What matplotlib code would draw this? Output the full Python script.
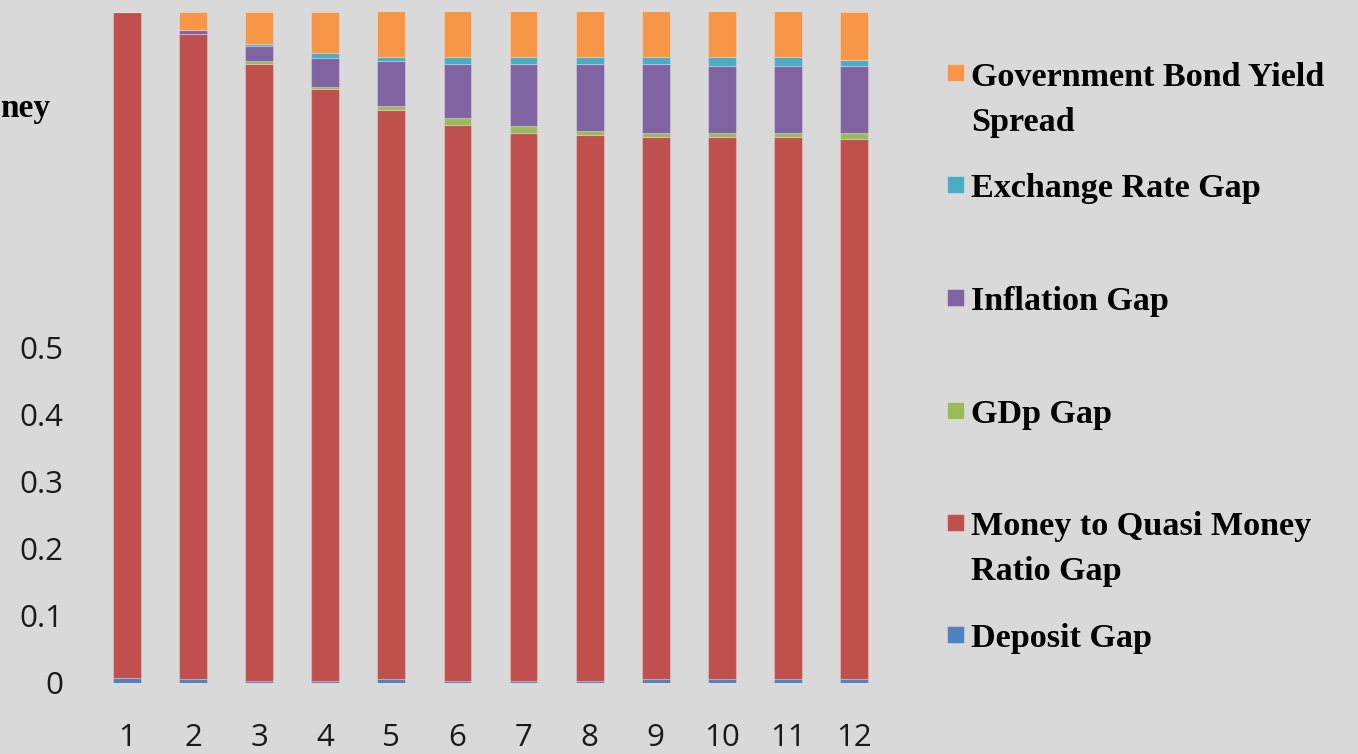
import matplotlib
matplotlib.use("Agg")
from matplotlib import pyplot as plt
from matplotlib.patches import Rectangle
import numpy as np

periods = list(range(1, 13))

# shares of each factor per period (stacked to 1.0)
deposit   = [0.008, 0.0055, 0.0025, 0.0025, 0.0055, 0.0025, 0.0025, 0.0025, 0.0055, 0.0055, 0.0055, 0.0055]
money_qm  = [0.992, 0.9615, 0.920, 0.882, 0.848, 0.8285, 0.8165, 0.8135, 0.808, 0.808, 0.808, 0.8045]
gdp       = [0.0, 0.0, 0.0035, 0.0035, 0.0065, 0.010, 0.010, 0.0065, 0.0055, 0.0055, 0.0055, 0.009]
inflation = [0.0, 0.006, 0.022, 0.043, 0.066, 0.081, 0.093, 0.0995, 0.103, 0.1005, 0.1005, 0.1005]
exchange  = [0.0, 0.0, 0.003, 0.007, 0.006, 0.010, 0.010, 0.010, 0.010, 0.0125, 0.0125, 0.009]
bond      = [0.0, 0.027, 0.049, 0.062, 0.068, 0.068, 0.068, 0.068, 0.068, 0.068, 0.068, 0.0715]

series = [deposit, money_qm, gdp, inflation, exchange, bond]
labels = ['Deposit Gap', 'Money to Quasi Money\nRatio Gap', 'GDp Gap', 'Inflation Gap',
          'Exchange Rate Gap', 'Government Bond Yield\nSpread']
colors = ['#4F81BD', '#C0504D', '#9BBB59', '#8064A2', '#4BACC6', '#F79646']

yticks = [0, 0.1, 0.2, 0.3, 0.4, 0.5]
ytick_labels = ['0', '0.1', '0.2', '0.3', '0.4', '0.5']

W, H = 1358, 754
bg = '#D9D9D9'
fig = plt.figure(figsize=(W / 100, H / 100), dpi=100, facecolor=bg)
ax = fig.add_axes([94 / W, (H - 683) / H, (887 - 94) / W, (683 - 11.5) / H])
ax.set_facecolor(bg)

bottom = np.zeros(len(periods))
for vals, col in zip(series, colors):
    vals = np.array(vals)
    ax.bar(periods, vals, width=0.42, bottom=bottom, color=col,
           edgecolor=(1, 1, 1, 0.25), linewidth=0.8)
    bottom += vals

ax.set_xlim(0.5, 12.5)
ax.set_ylim(0, 1)
ax.set_xticks(periods)
ax.set_xticklabels([str(p) for p in periods], fontsize=22.5, family='Open Sans', color='#1a1a1a')
ax.set_yticks(yticks)
ax.set_yticklabels(ytick_labels, fontsize=22.5, family='Open Sans', color='#1a1a1a')
ax.tick_params(axis='x', length=0, pad=29)
ax.tick_params(axis='y', length=0, pad=22)
for s in ax.spines.values():
    s.set_visible(False)

# cropped axis title fragment
fig.text(0 / W, 1 - 117 / H, 'ney', fontsize=24, fontweight='bold',
         family='Liberation Serif', ha='left', va='baseline')

# legend, top to bottom
leg_square_y = [72.5, 184.5, 297, 410, 522, 634]
for i, (lab, col) in enumerate(zip(labels[::-1], colors[::-1])):
    cy = leg_square_y[i]
    fig.patches.append(Rectangle((947 / W, 1 - (cy + 8.5) / H), 17 / W, 17 / H,
                                 transform=fig.transFigure, facecolor=col,
                                 edgecolor=(1, 1, 1, 0.3), linewidth=0.8))
    for j, line in enumerate(lab.split('\n')):
        fig.text(971 / W, 1 - (cy + 13 + j * 45) / H, line, fontsize=24.6,
                 fontweight='bold', family='Liberation Serif',
                 ha='left', va='baseline')

fig.savefig('out.png', dpi=100, facecolor=bg)
